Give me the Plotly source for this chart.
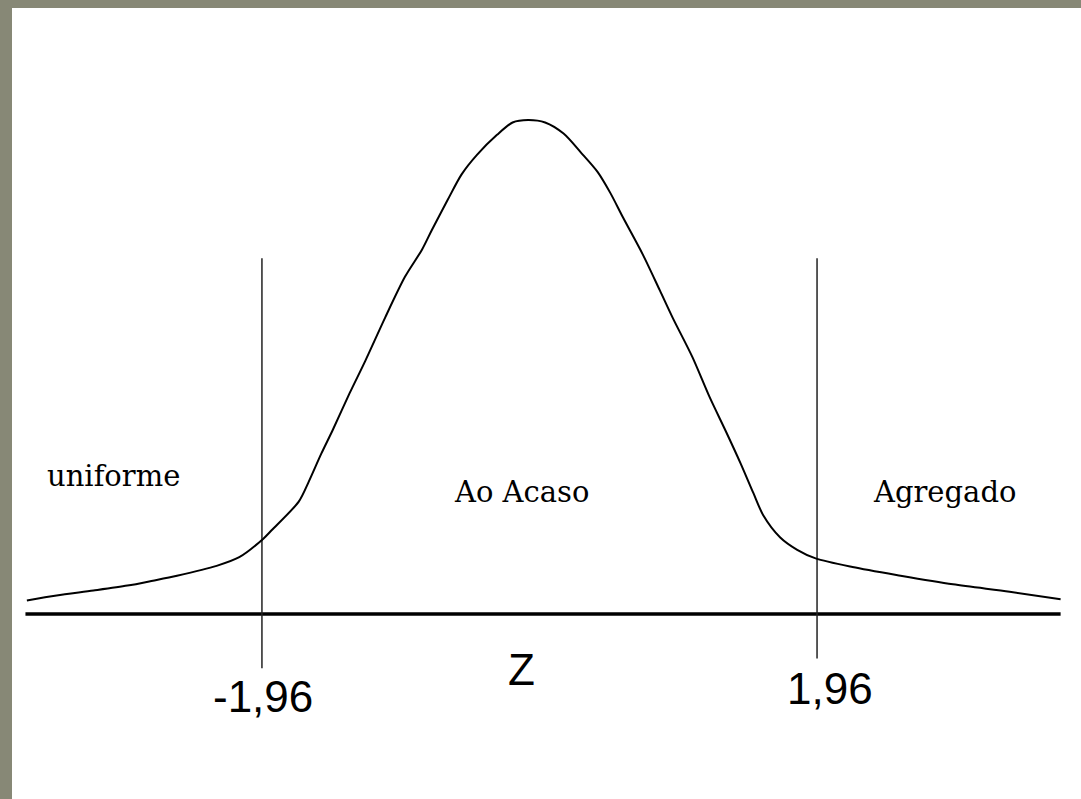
import plotly.graph_objects as go

# curva (Z, altura relativa)
z = [-3.62, -3.41, -3.15, -2.91, -2.73, -2.56, -2.28, -2.12, -1.95, -1.89,
     -1.70, -1.63, -1.54, -1.46, -1.34, -1.23, -1.09, -0.95, -0.83, -0.76,
     -0.65, -0.55, -0.44, -0.30, -0.19, -0.08, 0.04, 0.17, 0.29, 0.41,
     0.50, 0.59, 0.73, 0.85, 0.94, 1.08, 1.20, 1.32, 1.42, 1.51,
     1.58, 1.70, 1.82, 1.95, 2.21, 2.55, 2.92, 3.32, 3.68]
dens = [0.011, 0.015, 0.019, 0.023, 0.027, 0.031, 0.039, 0.046, 0.061, 0.068,
        0.091, 0.107, 0.130, 0.149, 0.179, 0.205, 0.240, 0.273, 0.295, 0.311,
        0.335, 0.356, 0.372, 0.388, 0.398, 0.400, 0.398, 0.389, 0.374, 0.358,
        0.341, 0.321, 0.291, 0.262, 0.240, 0.208, 0.176, 0.147, 0.122, 0.098,
        0.080, 0.062, 0.052, 0.045, 0.038, 0.031, 0.024, 0.018, 0.012]

eixo_z = [-3.63, 3.68]
cortes = [-1.96, 1.96]
corte_topo = [0.288, 0.288]
corte_base = [-0.044, -0.036]
rotulos_corte = ['-1,96', '1,96']
regioes = ['uniforme', 'Ao Acaso', 'Agregado']
regioes_z = [-3.01, -0.13, 2.86]

fig = go.Figure()

fig.add_trace(go.Scatter(x=eixo_z, y=[0, 0], mode='lines',
                         line=dict(color='black', width=3.5), hoverinfo='skip'))
for c, t, b in zip(cortes, corte_topo, corte_base):
    fig.add_trace(go.Scatter(x=[c, c], y=[b, t], mode='lines',
                             line=dict(color='#222222', width=1.5), hoverinfo='skip'))
fig.add_trace(go.Scatter(x=z, y=dens, mode='lines',
                         line=dict(color='black', width=2, shape='spline', smoothing=0.8)))

# rótulos dos cortes e do eixo
fig.add_annotation(x=-1.96 + 0.01, y=-0.067, text=rotulos_corte[0], showarrow=False,
                   font=dict(family='Liberation Sans', size=44, color='black'))
fig.add_annotation(x=1.96 + 0.09, y=-0.060, text=rotulos_corte[1], showarrow=False,
                   font=dict(family='Liberation Sans', size=44, color='black'))
fig.add_annotation(x=-0.13, y=-0.045, text='Z', showarrow=False,
                   font=dict(family='Liberation Sans', size=44, color='black'))

for nome, xz, yy in zip(regioes, regioes_z, [0.112, 0.099, 0.099]):
    fig.add_annotation(x=xz, y=yy, text=nome, showarrow=False,
                       font=dict(family='DejaVu Serif', size=29, color='black'))

fig.update_xaxes(range=[-3.725, 3.824], visible=False)
fig.update_yaxes(range=[-0.1498, 0.4907], visible=False)
fig.update_layout(width=1081, height=799, showlegend=False,
                  margin=dict(l=12, r=0, t=8, b=0),
                  paper_bgcolor='#878876', plot_bgcolor='white')

fig.write_html("out.html", config={'displayModeBar': False},
               post_script="document.body.style.margin='0';")
